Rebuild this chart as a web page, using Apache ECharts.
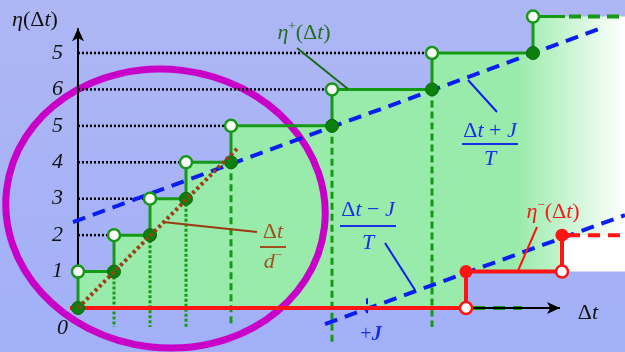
<!DOCTYPE html>
<html>
<head>
<meta charset="utf-8">
<script src="https://cdn.jsdelivr.net/npm/echarts@6/dist/echarts.min.js"></script>
<style>
html, body { margin: 0; padding: 0; }
#chart { width: 625px; height: 352px; }
</style>
</head>
<body>
<div id="chart"></div>
<script>
// ---- data -------------------------------------------------------------
// η+(Δt): positions of the jumps and the level just before / after each jump
const upperJumpX = [0, 3.6, 7.2, 10.8, 15.3, 25.4, 35.4, 45.5];
const upperBefore = [0, 1, 2, 3, 4, 5, 6, 7];
const upperAfter = [1, 2, 3, 4, 5, 6, 7, 8];
// η−(Δt): jumps and levels
const lowerJumpX = [38.8, 48.4];
const lowerBefore = [0, 1];
const lowerAfter = [1, 2];
// bounding lines (end points, Δt vs level)
const upperBound = [[-0.5, 2.36], [52.4, 7.69]];   // (Δt+J)/T
const lowerBound = [[24.7, -0.44], [54.7, 2.55]];  // (Δt−J)/T
const slopeLine = [[0, 0], [15.9, 4.37]];          // Δt/d−
const jPlusX = 28.9;
// tick labels of the η axis, for levels 0..7
const yTickLabels = ['0', '1', '2', '3', '4', '5', '6', '5'];

// ---- layout helpers -----------------------------------------------------
const X_MIN = -1, X_MAX = 54.7;
const SERIF = 'Liberation Serif';
const GREEN = '#169a16';
const GREEN_DARK = '#0c800c';
const RED = '#ff1414';
const BLUE = '#0a1ef0';
const BROWN = '#a03c14';
const BG_LOW = '#a4b1f7';

function seg(p1, p2, lineStyle, z) {
  return { type: 'line', data: [p1, p2], symbol: 'none', silent: true, clip: false,
    z: z, lineStyle: lineStyle, animation: false };
}

const series = [];

// filled region under η+
const areaPts = [[upperJumpX[0], upperBefore[0]]];
for (let i = 0; i < upperJumpX.length; i++) {
  areaPts.push([upperJumpX[i], upperAfter[i]]);
  if (i < upperJumpX.length - 1) areaPts.push([upperJumpX[i + 1], upperAfter[i]]);
}
areaPts.push([X_MAX, upperAfter[upperAfter.length - 1]]);
series.push({
  type: 'line', data: areaPts, symbol: 'none', silent: true, z: 1,
  lineStyle: { width: 0, opacity: 0 },
  areaStyle: {
    opacity: 1,
    color: new echarts.graphic.LinearGradient(0, 0, 1, 0, [
      { offset: 0, color: '#98ebaa' },
      { offset: 0.8, color: '#98ebaa' },
      { offset: 1, color: '#ffffff' }
    ])
  }
});
// white block and lower band under η−
series.push({
  type: 'line', data: [[lowerJumpX[1], lowerAfter[1]], [X_MAX, lowerAfter[1]]], symbol: 'none',
  silent: true, z: 1, lineStyle: { width: 0, opacity: 0 }, areaStyle: { color: '#ffffff', opacity: 1 }
});
series.push({
  type: 'line', data: [[lowerJumpX[0], lowerAfter[0]], [X_MAX, lowerAfter[0]]], symbol: 'none',
  silent: true, z: 1, lineStyle: { width: 0, opacity: 0 }, areaStyle: { color: BG_LOW, opacity: 1 }
});

// magenta ellipse around the first steps (centre and radii in axis units)
series.push({
  type: 'custom', silent: true, z: 2, clip: false,
  data: [[8.75, 2.73]],
  renderItem: function (params, api) {
    const c = api.coord([api.value(0), api.value(1)]);
    const s = api.size([16, 3.82]);
    return {
      type: 'ellipse', x: c[0], y: c[1], rotation: -0.12,
      shape: { cx: 0, cy: 0, rx: s[0], ry: s[1] },
      style: { fill: 'none', stroke: '#c800c8', lineWidth: 7 }
    };
  }
});

// dotted black guides from the η axis to the open circles
for (let i = 1; i < upperJumpX.length - 1; i++) {
  series.push(seg([0, upperAfter[i]], [upperJumpX[i], upperAfter[i]],
    { color: '#000', width: 2.5, type: [2, 2] }, 3));
}
// vertical green guides under the filled circles
for (let i = 1; i < upperJumpX.length - 1; i++) {
  const dotted = i <= 3;
  const bottom = i === 5 ? -0.93 : -0.52;
  series.push(seg([upperJumpX[i], upperBefore[i]], [upperJumpX[i], bottom],
    { color: GREEN, width: 3, type: dotted ? [3, 2] : [7, 4] }, 3));
}

// axes with arrows
series.push({
  type: 'line', data: [[0, 0], [0, 7.68]], silent: true, z: 3, clip: false,
  symbol: function (v, p) { return p.dataIndex === 1 ? 'arrow' : 'none'; },
  symbolSize: [9, 13], itemStyle: { color: '#000' },
  lineStyle: { color: '#000', width: 2 }
});
series.push(seg([lowerJumpX[0] + 0.7, 0], [44.4, 0], { color: GREEN, width: 4, type: [12, 8] }, 3));
series.push({
  type: 'line', data: [[0, 0], [48.2, 0]], silent: true, z: 3, clip: false,
  symbol: function (v, p) { return p.dataIndex === 1 ? 'arrow' : 'none'; },
  symbolRotate: -90, symbolSize: [9, 13], itemStyle: { color: '#000' },
  lineStyle: { color: '#000', width: 2 }
});

// bounding lines
series.push(seg(upperBound[0], upperBound[1], { color: BLUE, width: 4, type: [13, 8] }, 4));
series.push(seg(lowerBound[0], lowerBound[1], { color: BLUE, width: 4, type: [13, 8] }, 4));
series.push(seg([jPlusX, 0.27], [jPlusX, -0.22], { color: BLUE, width: 2, type: [6, 3] }, 4));

// η+ staircase
const upperPath = areaPts.slice(0, areaPts.length - 1);
upperPath.push([48.7, upperAfter[upperAfter.length - 1]]);
series.push({ type: 'line', data: upperPath, symbol: 'none', silent: true, z: 5,
  lineStyle: { color: GREEN, width: 3 } });
series.push(seg([49.1, upperAfter[upperAfter.length - 1]], [X_MAX, upperAfter[upperAfter.length - 1]],
  { color: GREEN, width: 4, type: [12, 7] }, 5));

// η− staircase
const lowerPath = [[-0.8, lowerBefore[0]]];
for (let i = 0; i < lowerJumpX.length; i++) {
  lowerPath.push([lowerJumpX[i], lowerBefore[i]]);
  lowerPath.push([lowerJumpX[i], lowerAfter[i]]);
}
series.push({ type: 'line', data: lowerPath, symbol: 'none', silent: true, z: 5,
  lineStyle: { color: RED, width: 4 } });
series.push(seg([49.0, lowerAfter[1]], [X_MAX, lowerAfter[1]], { color: RED, width: 4, type: [12, 8] }, 5));

// markers
series.push({
  type: 'scatter', silent: true, z: 6, symbol: 'circle', symbolSize: 13,
  data: upperJumpX.map((x, i) => [x, upperBefore[i]]),
  itemStyle: { color: GREEN_DARK, borderColor: '#0a6a0a', borderWidth: 1, opacity: 1 }
});
series.push({
  type: 'scatter', silent: true, z: 6, symbol: 'circle', symbolSize: 12,
  data: upperJumpX.map((x, i) => [x, upperAfter[i]]),
  itemStyle: { color: '#ffffff', borderColor: GREEN, borderWidth: 2.5, opacity: 1 }
});
series.push({
  type: 'scatter', silent: true, z: 6, symbol: 'circle', symbolSize: 13,
  data: lowerJumpX.map((x, i) => [x, lowerAfter[i]]),
  itemStyle: { color: RED, opacity: 1 }
});
series.push({
  type: 'scatter', silent: true, z: 6, symbol: 'circle', symbolSize: 12,
  data: lowerJumpX.map((x, i) => [x, lowerBefore[i]]),
  itemStyle: { color: '#ffffff', borderColor: RED, borderWidth: 2.5, opacity: 1 }
});

// Δt/d− slope
series.push(seg(slopeLine[0], slopeLine[1], { color: BROWN, width: 4, type: [3, 3] }, 7));

// ---- annotation text -------------------------------------------------
function richStyles(color, size) {
  return {
    i: { fontFamily: SERIF, fontStyle: 'italic', fontSize: size, fill: color, lineHeight: size + 4 },
    u: { fontFamily: SERIF, fontSize: size, fill: color, lineHeight: size + 4 },
    s: { fontFamily: SERIF, fontSize: Math.round(size * 0.6), fill: color, verticalAlign: 'top', lineHeight: size + 4 },
    b: { fontFamily: SERIF, fontStyle: 'italic', fontWeight: 'bold', fontSize: size, fill: color, lineHeight: size + 4 }
  };
}
function label(text, x, y, color, size) {
  return { type: 'text', x: x, y: y, z: 20, silent: true,
    style: { text: text, rich: richStyles(color, size || 22), align: 'center', verticalAlign: 'middle' } };
}
function pline(x1, y1, x2, y2, color) {
  return { type: 'line', z: 20, silent: true, shape: { x1: x1, y1: y1, x2: x2, y2: y2 },
    style: { stroke: color, lineWidth: 2 } };
}
function frac(num, den, cx, yNum, yBar, yDen, half, color) {
  return [
    label(num, cx, yNum, color),
    pline(cx - half, yBar, cx + half, yBar, color),
    label(den, cx, yDen, color)
  ];
}

const TXT_GREEN = '#1f6f1f';
const TXT_BLUE = '#1a2ee8';
const TXT_BROWN = '#a0501e';
const TXT_RED = '#f01c1c';

const graphics = [
  label('{i|η}{u|(Δ}{i|t}{u|)}', 35, 20, '#111'),
  label('{i|η}{s|+}{u|(Δ}{i|t}{u|)}', 304, 33, TXT_GREEN),
  pline(297, 48, 348, 89, '#1a6a1a'),
  ...frac('{u|Δ}{i|t}{u| + }{i|J}', '{i|T}', 490, 131, 144, 159, 28, TXT_BLUE),
  pline(468, 80, 497, 112, BLUE),
  ...frac('{u|Δ}{i|t}{u| − }{i|J}', '{i|T}', 368, 210, 226, 243, 28, TXT_BLUE),
  pline(385, 243, 415, 290, BLUE),
  ...frac('{u|Δ}{i|t}', '{i|d}{s|−}', 273, 232, 247, 262, 13, TXT_BROWN),
  pline(163, 222, 257, 232, '#9a3a10'),
  label('{i|η}{s|−}{u|(Δ}{i|t}{u|)}', 553, 212, TXT_RED),
  pline(537, 227, 517, 273, RED),
  label('{u|+}{b|J}', 371, 335, TXT_BLUE, 20),
  label('{u|Δ}{i|t}', 588, 313, '#111')
];

// ---- chart ------------------------------------------------------------
const chart = echarts.init(document.getElementById('chart'), null, { renderer: 'canvas' });
chart.setOption({
  animation: false,
  backgroundColor: new echarts.graphic.LinearGradient(0, 0, 0, 1, [
    { offset: 0, color: '#aeb7f4' },
    { offset: 1, color: '#a2b0f8' }
  ]),
  grid: { left: 68, right: 0, top: 2, bottom: 7.57 },
  xAxis: { type: 'value', min: X_MIN, max: X_MAX, show: false },
  yAxis: {
    type: 'value', min: -1, max: 8.4, interval: 1,
    axisLine: { show: false, onZero: false }, axisTick: { show: false }, splitLine: { show: false },
    axisLabel: {
      margin: 0,
      fontFamily: SERIF, fontStyle: 'italic', fontSize: 22, color: '#111',
      formatter: function (v) {
        if (v === 0) return '{z|' + yTickLabels[0] + '}';
        if (Number.isInteger(v) && v >= 1 && v < yTickLabels.length) return '{n|' + yTickLabels[v] + '}';
        return '';
      },
      rich: {
        n: { fontFamily: SERIF, fontStyle: 'italic', fontSize: 22, color: '#111', padding: [0, 5, 0, 0] },
        z: { fontFamily: SERIF, fontStyle: 'italic', fontSize: 22, color: '#111', padding: [40, 0, 0, 0] }
      }
    }
  },
  series: series,
  graphic: graphics
});
</script>
</body>
</html>
